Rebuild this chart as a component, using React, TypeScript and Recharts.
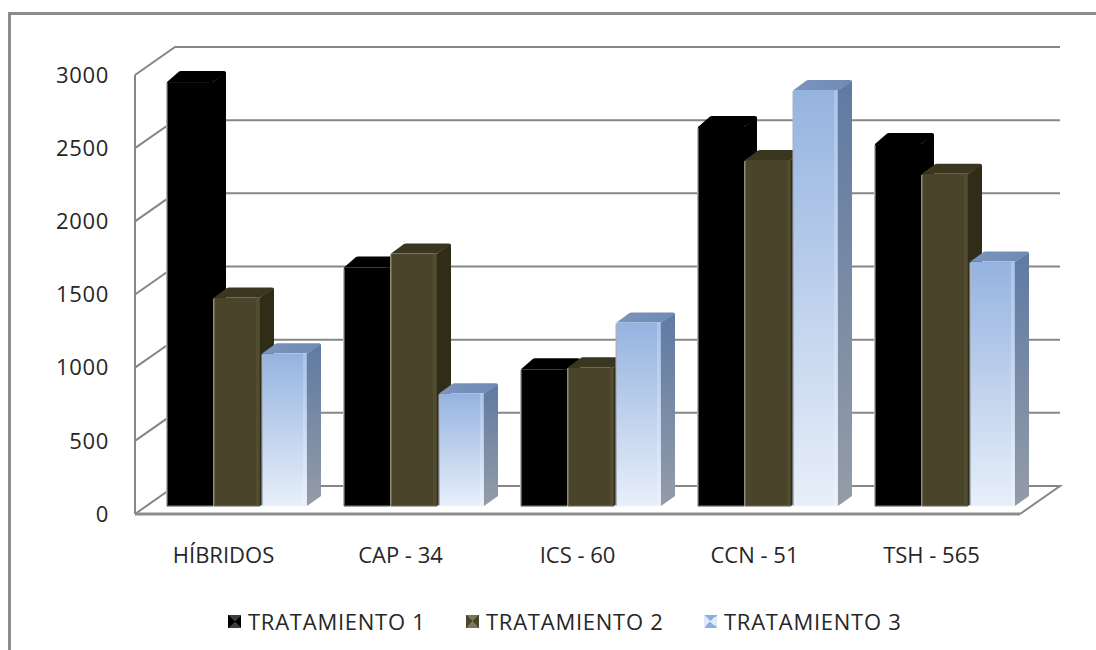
import React from "react";
import { BarChart, Bar, XAxis, YAxis, CartesianGrid, Legend } from "recharts";

const categories = ["HÍBRIDOS", "CAP - 34", "ICS - 60", "CCN - 51", "TSH - 565"];
const tratamiento1 = [2897, 1629, 934, 2590, 2474];
const tratamiento2 = [1425, 1725, 948, 2365, 2270];
const tratamiento3 = [1043, 770, 1254, 2843, 1670];
const yTicks = [0, 500, 1000, 1500, 2000, 2500, 3000];
const seriesNames = ["TRATAMIENTO 1", "TRATAMIENTO 2", "TRATAMIENTO 3"];

const data = categories.map((name, i) => ({
  name,
  t1: tratamiento1[i],
  t2: tratamiento2[i],
  t3: tratamiento3[i],
}));

const FONT = "'Open Sans', sans-serif";
const TEXT = "#262626";
const LINE = "#868686";
const FX = 14; // floor offset
const FY = 8;
const WALL_X = 40;
const WALL_Y = 28;

type Palette = {
  front: string; side: string; top: string; edge: string; base: string;
  inner: string; dx: number; dy: number; inset: number;
};
const palettes: Palette[] = [
  { front: "#000000", side: "#000000", top: "#000000", edge: "#b5b5b5", base: "#444444", inner: "#000000", dx: 13, dy: 11, inset: 0 },
  { front: "#4a452a", side: "#2f2c18", top: "#3a3620", edge: "#8d8a78", base: "#5c5a48", inner: "#524d30", dx: 14, dy: 10, inset: 0 },
  { front: "url(#blueFront)", side: "url(#blueSide)", top: "url(#blueTop)", edge: "#a9b2c2", base: "#eef3fb", inner: "rgba(255,255,255,0.22)", dx: 14, dy: 10, inset: 1.5 },
];

function makeShape(p: Palette) {
  return function Bar3D(props: any) {
    const { x, y, width, height } = props;
    const l = x + FX + p.inset;
    const r = x + FX + width - 1;
    const t = y - FY;
    const b = y + height - FY;
    const dx = p.dx;
    const dy = p.dy;
    return (
      <g>
        <path d={`M${r} ${t} L${r + dx} ${t - dy + 1} L${r + dx} ${b - dy} L${r} ${b} Z`} fill={p.side} />
        <path
          d={`M${l} ${t} L${l + dx - 1} ${t - dy + 0.5} Q${l + dx} ${t - dy} ${l + dx + 1} ${t - dy} L${r + dx - 2} ${t - dy} Q${r + dx} ${t - dy} ${r + dx} ${t - dy + 2} L${r} ${t} Z`}
          fill={p.top}
        />
        <rect x={l} y={t} width={r - l} height={b - t} fill={p.front} />
        <rect x={r - 4} y={t} width={3} height={b - t} fill={p.inner} />
        <rect x={l - 1} y={t + 1} width={1.5} height={b - t - 1} fill={p.edge} />
        <rect x={l} y={b - 1} width={r - l} height={1.5} fill={p.base} />
      </g>
    );
  };
}

function gridLine(props: any) {
  const { x1, x2, y1 } = props;
  const isFloor = Math.abs(y1 - 514) < 1;
  const d = isFloor
    ? `M${x1} ${y1} L${x1 + WALL_X} ${y1 - WALL_Y} L${x2 + WALL_X} ${y1 - WALL_Y} L${x2} ${y1}`
    : `M${x1} ${y1} L${x1 + WALL_X} ${y1 - WALL_Y} L${x2 + WALL_X} ${y1 - WALL_Y}`;
  return <path key={props.key ?? y1} d={d} fill="none" stroke={LINE} strokeWidth={2} />;
}

const hourglass = (a: string, b: string) =>
  `conic-gradient(from -45deg, ${a} 0 90deg, ${b} 90deg 180deg, ${a} 180deg 270deg, ${b} 270deg 360deg)`;
const swatchFills = [
  hourglass("#3c3c3c", "#000000"),
  hourglass("#7a7658", "#4a452a"),
  hourglass("#8fadde", "#dfe8f7"),
];
const legendX = [228, 466, 704];

function LegendContent() {
  return (
    <div>
      {seriesNames.map((n, i) => (
        <div
          key={n}
          style={{ position: "absolute", left: legendX[i], top: 606, display: "flex", alignItems: "center", fontFamily: FONT, fontSize: 22, letterSpacing: 0.75, color: TEXT, whiteSpace: "nowrap" }}
        >
          <span style={{ width: 13, height: 13, marginRight: 7, background: swatchFills[i], display: "inline-block" }} />
          {n}
        </div>
      ))}
    </div>
  );
}

export default function App() {
  return (
    <div style={{ position: "absolute", left: 0, top: 0, width: 1096, height: 650, overflow: "hidden", background: "#fff" }}>
      <div style={{ position: "absolute", left: 8, top: 12, width: 1088, height: 638, borderTop: "3px solid #8c8c8c", borderLeft: "3px solid #8c8c8c", boxSizing: "border-box" }} />
      <BarChart
        width={1096}
        height={650}
        data={data}
        margin={{ top: 75, right: 76, bottom: 0, left: 0 }}
        barSize={47}
        barGap={0}
        style={{ position: "absolute", left: 0, top: 0 }}
      >
        <defs>
          <linearGradient id="blueFront" x1="0" y1="0" x2="0" y2="1">
            <stop offset="0" stopColor="#95b3e0" />
            <stop offset="1" stopColor="#e8eff9" />
          </linearGradient>
          <linearGradient id="blueSide" x1="0" y1="0" x2="0" y2="1">
            <stop offset="0" stopColor="#5f7aa3" />
            <stop offset="1" stopColor="#949ca8" />
          </linearGradient>
          <linearGradient id="blueTop" x1="0" y1="0" x2="1" y2="0">
            <stop offset="0" stopColor="#7a94bd" />
            <stop offset="1" stopColor="#6f8ab5" />
          </linearGradient>
        </defs>
        <CartesianGrid vertical={false} horizontal={gridLine as any} />
        <XAxis
          dataKey="name"
          height={136}
          axisLine={{ stroke: "#8c8c8c", strokeWidth: 3 }}
          tickLine={false}
          tickMargin={27}
          interval={0}
          tick={{ fontFamily: FONT, fontSize: 22, fill: TEXT }}
        />
        <YAxis
          width={135}
          domain={[0, 3000]}
          ticks={yTicks}
          interval={0}
          axisLine={{ stroke: LINE, strokeWidth: 2 }}
          tickLine={false}
          tickMargin={20}
          tick={{ fontFamily: FONT, fontSize: 22, letterSpacing: 0.7, fill: TEXT }}
        />
        <Legend content={<LegendContent />} wrapperStyle={{ position: "absolute", left: 0, top: 0, width: 0, height: 0 }} />
        <Bar dataKey="t1" name={seriesNames[0]} fill="#000000" isAnimationActive={false} shape={makeShape(palettes[0])} />
        <Bar dataKey="t2" name={seriesNames[1]} fill="#4a452a" isAnimationActive={false} shape={makeShape(palettes[1])} />
        <Bar dataKey="t3" name={seriesNames[2]} fill="#95b3e0" isAnimationActive={false} shape={makeShape(palettes[2])} />
      </BarChart>
    </div>
  );
}
